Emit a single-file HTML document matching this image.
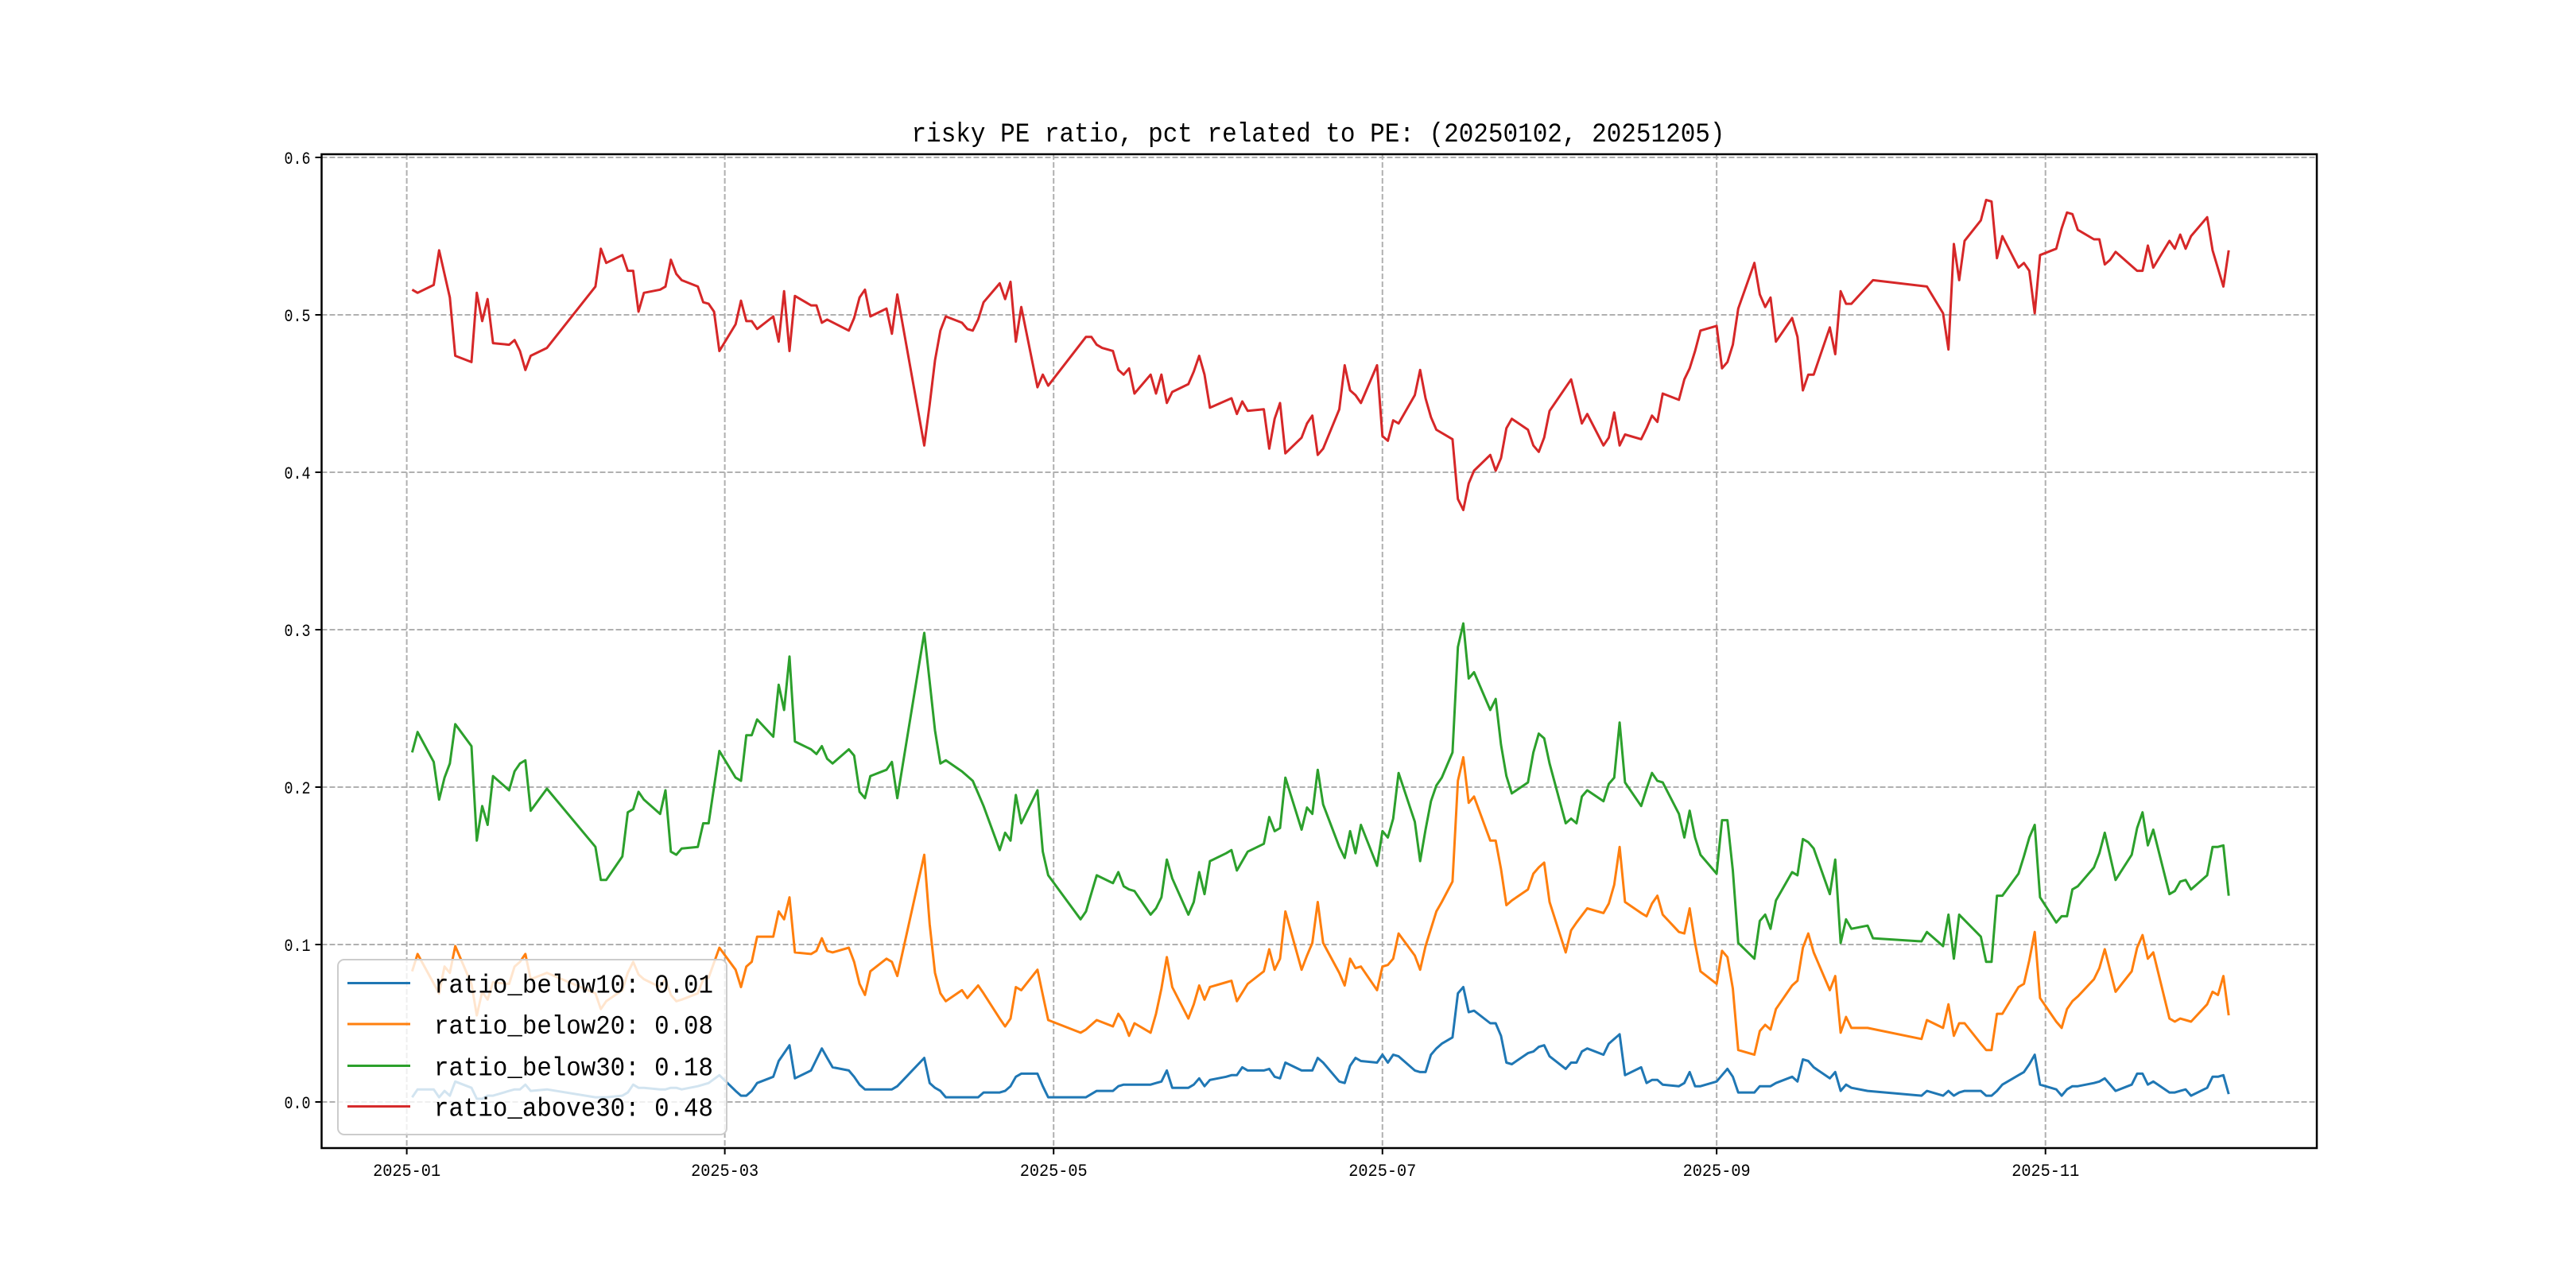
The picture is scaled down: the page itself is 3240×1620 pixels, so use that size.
<!DOCTYPE html>
<html><head><meta charset="utf-8">
<style>
html,body{margin:0;padding:0;background:#fff;}
svg{display:block;}
text{font-family:"Liberation Mono","WenQuanYi Zen Hei",monospace;fill:#000;}
</style></head>
<body>
<svg id="chart" width="3240" height="1620" viewBox="0 0 3240 1620" xmlns="http://www.w3.org/2000/svg">
<rect x="0" y="0" width="3240" height="1620" fill="#fff"/>
<text x="1658" y="178" font-size="34" text-anchor="middle" textLength="1023" lengthAdjust="spacingAndGlyphs">risky PE ratio, pct related to PE: (20250102, 20251205)</text>
<g id="grid"></g>
<g id="series"></g>
<g id="axes"></g>
<g id="legend"></g>
</svg>
<script>
// x values are day offsets from 2025-01-01
const yTicks = [0.0, 0.1, 0.2, 0.3, 0.4, 0.5, 0.6];
const yTickLabels = ["0.0","0.1","0.2","0.3","0.4","0.5","0.6"];
const xTicks = [0, 59, 120, 181, 243, 304];
const xTickLabels = ["2025-01","2025-03","2025-05","2025-07","2025-09","2025-11"];
const seriesNames = ["ratio_below10: 0.01","ratio_below20: 0.08","ratio_below30: 0.18","ratio_above30: 0.48"];

const daysBlue = [1,2,5,6,7,8,9,12,13,14,15,16,19,20,21,22,23,26,
35,36,37,40,41,42,43,44,47,48,49,50,51,54,55,56,
58,61,62,63,64,65,68,69,70,71,72,75,76,77,78,79,82,83,84,85,86,89,90,91,
96,97,98,99,100,103,104,105,106,107,110,111,112,113,114,117,118,119,
125,126,128,131,132,133,135,138,139,140,141,142,145,146,147,148,149,152,153,154,155,156,159,160,161,162,163,166,167,168,169,170,173,174,175,176,177,180,181,182,183,184,187,188,189,190,
191,192,194,195,196,197,198,201,202,203,204,205,208,209,210,211,212,215,216,217,218,219,222,223,224,225,226,229,230,231,232,233,236,237,238,239,240,
243,244,245,246,247,250,251,253,254,257,258,259,260,261,264,265,266,267,268,271,
281,282,285,286,287,288,289,292,293,294,295,296,299,300,301,302,303,306,307,308,309,310,313,314,315,317,320,321,322,323,324,327,328,329,330,331,334,335,336,337,338];
const valsBlue = [0.003,0.008,0.008,0.003,0.007,0.004,0.013,0.009,0.002,0.002,0.004,0.004,0.007,0.008,0.008,0.011,0.007,0.008,
0.003,0.003,0.003,0.004,0.006,0.011,0.009,0.009,0.008,0.008,0.009,0.009,0.008,0.010,0.011,0.012,
0.017,0.007,0.004,0.004,0.007,0.012,0.016,0.026,0.031,0.036,0.015,0.020,0.027,0.034,0.028,0.022,0.020,0.016,0.011,0.008,0.008,0.008,0.008,0.010,
0.028,0.012,0.009,0.007,0.003,0.003,0.003,0.003,0.003,0.006,0.006,0.007,0.010,0.016,0.018,0.018,0.010,0.003,
0.003,0.003,0.007,0.007,0.010,0.011,0.011,0.011,0.012,0.013,0.020,0.009,0.009,0.011,0.015,0.010,0.014,0.016,0.017,0.017,0.022,0.020,0.020,0.021,0.016,0.015,0.025,0.020,0.020,0.020,0.028,0.025,0.013,0.012,0.023,0.028,0.026,0.025,0.030,0.025,0.030,0.029,0.020,0.019,0.019,0.030,
0.034,0.037,0.041,0.069,0.073,0.057,0.058,0.050,0.050,0.042,0.025,0.024,0.031,0.032,0.035,0.036,0.029,0.021,0.025,0.025,0.032,0.034,0.030,0.037,0.040,0.043,0.017,0.022,0.012,0.014,0.014,0.011,0.010,0.012,0.019,0.010,0.010,
0.013,0.017,0.021,0.016,0.006,0.006,0.010,0.010,0.012,0.016,0.013,0.027,0.026,0.022,0.015,0.019,0.007,0.011,0.009,0.007,
0.004,0.007,0.004,0.007,0.004,0.006,0.007,0.007,0.004,0.004,0.007,0.011,0.017,0.019,0.024,0.030,0.011,0.008,0.004,0.008,0.010,0.010,0.012,0.013,0.015,0.007,0.011,0.018,0.018,0.011,0.013,0.006,0.006,0.007,0.008,0.004,0.009,0.016,0.016,0.017,0.005];

const daysOrange = [1,2,6,7,8,9,12,13,14,15,16,19,20,21,22,23,26,
35,36,37,40,41,42,43,44,47,48,49,50,51,54,55,56,
58,61,62,63,64,65,68,69,70,71,72,75,76,77,78,79,82,83,84,85,86,89,90,91,
96,97,98,99,100,103,104,105,106,107,110,111,112,113,114,117,118,119,
125,126,128,131,132,133,134,135,138,139,140,141,142,145,146,147,148,149,152,153,154,156,159,160,161,162,163,166,167,168,169,170,173,174,175,176,177,180,181,182,183,184,187,188,189,
191,192,194,195,196,197,198,201,202,203,204,205,208,209,210,211,212,215,216,217,219,222,223,224,225,226,229,230,231,232,233,236,237,238,239,240,
243,244,245,246,247,250,251,252,253,254,257,258,259,260,261,264,265,266,267,268,271,
281,282,285,286,287,288,289,292,293,294,295,296,299,300,301,302,303,306,307,308,309,310,313,314,315,317,320,321,322,323,324,327,328,329,330,331,334,335,336,337,338];
const valsOrange = [0.083,0.094,0.069,0.086,0.082,0.099,0.075,0.055,0.070,0.065,0.076,0.075,0.086,0.089,0.094,0.078,0.082,
0.069,0.059,0.064,0.071,0.082,0.089,0.081,0.078,0.073,0.078,0.068,0.064,0.065,0.069,0.078,0.079,
0.098,0.084,0.073,0.086,0.089,0.105,0.105,0.121,0.116,0.130,0.095,0.094,0.096,0.104,0.096,0.095,0.098,0.089,0.075,0.068,0.083,0.091,0.089,0.080,
0.157,0.113,0.082,0.069,0.064,0.071,0.066,0.070,0.074,0.069,0.053,0.048,0.053,0.073,0.071,0.084,0.068,0.052,
0.044,0.046,0.052,0.048,0.056,0.051,0.042,0.050,0.044,0.056,0.072,0.092,0.073,0.053,0.062,0.074,0.065,0.073,0.076,0.077,0.064,0.075,0.083,0.097,0.084,0.091,0.121,0.084,0.093,0.101,0.127,0.101,0.082,0.074,0.091,0.085,0.086,0.071,0.086,0.087,0.091,0.107,0.093,0.084,0.099,
0.121,0.127,0.140,0.204,0.219,0.190,0.194,0.166,0.166,0.148,0.125,0.128,0.135,0.145,0.149,0.152,0.127,0.095,0.109,0.114,0.123,0.120,0.126,0.138,0.162,0.127,0.120,0.118,0.126,0.131,0.119,0.108,0.107,0.123,0.101,0.083,
0.075,0.096,0.092,0.072,0.033,0.030,0.045,0.049,0.046,0.059,0.074,0.077,0.098,0.107,0.095,0.071,0.080,0.044,0.054,0.047,0.047,
0.040,0.052,0.047,0.062,0.042,0.050,0.050,0.037,0.033,0.033,0.056,0.056,0.073,0.075,0.090,0.108,0.066,0.051,0.047,0.059,0.064,0.067,0.078,0.085,0.097,0.070,0.083,0.098,0.106,0.091,0.095,0.053,0.051,0.053,0.052,0.051,0.062,0.070,0.068,0.080,0.055];

const daysGreen = [1,2,5,6,7,8,9,12,13,14,15,16,19,20,21,22,23,26,
35,36,37,40,41,42,43,44,47,48,49,50,51,54,55,56,
58,61,62,63,64,65,68,69,70,71,72,75,76,77,78,79,82,83,84,85,86,89,90,91,
96,97,98,99,100,103,104,105,106,107,110,111,112,113,114,117,118,119,
125,126,128,131,132,133,134,135,138,139,140,141,142,145,146,147,148,149,152,153,154,156,159,160,161,162,163,166,167,168,169,170,173,174,175,176,177,180,181,182,183,184,187,188,189,190,
191,192,194,195,196,197,198,201,202,203,204,205,208,209,210,211,212,215,216,217,218,219,222,223,224,225,226,229,230,231,232,233,236,237,238,239,240,
243,244,245,246,247,250,251,252,253,254,257,258,259,260,261,264,265,266,267,268,271,272,
281,282,285,286,287,288,292,293,294,295,296,299,300,301,302,303,306,307,308,309,310,313,314,315,317,320,321,322,323,324,327,328,329,330,331,334,335,336,337,338];
const valsGreen = [0.222,0.235,0.216,0.192,0.206,0.215,0.240,0.226,0.166,0.188,0.176,0.207,0.198,0.210,0.215,0.217,0.185,0.199,
0.162,0.141,0.141,0.156,0.184,0.186,0.197,0.192,0.183,0.198,0.159,0.157,0.161,0.162,0.177,0.177,
0.223,0.206,0.204,0.233,0.233,0.243,0.232,0.265,0.249,0.283,0.229,0.224,0.221,0.226,0.218,0.215,0.224,0.220,0.197,0.193,0.207,0.211,0.216,0.193,
0.298,0.267,0.236,0.215,0.217,0.210,0.207,0.204,0.196,0.188,0.160,0.171,0.166,0.195,0.177,0.198,0.159,0.144,
0.116,0.121,0.144,0.139,0.146,0.137,0.135,0.134,0.119,0.123,0.130,0.154,0.142,0.119,0.127,0.146,0.132,0.153,0.158,0.160,0.147,0.159,0.164,0.181,0.172,0.174,0.206,0.173,0.187,0.183,0.211,0.189,0.162,0.155,0.172,0.158,0.176,0.150,0.172,0.168,0.180,0.209,0.178,0.153,0.173,0.191,
0.201,0.206,0.222,0.289,0.304,0.269,0.273,0.249,0.256,0.227,0.207,0.196,0.203,0.222,0.234,0.231,0.215,0.177,0.180,0.177,0.194,0.198,0.191,0.202,0.206,0.241,0.203,0.188,0.199,0.209,0.204,0.203,0.183,0.168,0.185,0.168,0.157,
0.145,0.179,0.179,0.147,0.101,0.091,0.115,0.119,0.110,0.128,0.146,0.144,0.167,0.165,0.161,0.132,0.154,0.101,0.116,0.110,0.112,0.104,
0.102,0.108,0.099,0.119,0.091,0.119,0.105,0.089,0.089,0.131,0.131,0.145,0.156,0.168,0.176,0.130,0.114,0.118,0.118,0.135,0.137,0.149,0.158,0.171,0.141,0.157,0.174,0.184,0.163,0.173,0.132,0.134,0.140,0.141,0.135,0.144,0.162,0.162,0.163,0.131];

const daysRed = [1,2,5,6,8,9,12,13,14,15,16,19,20,21,22,23,26,
35,36,37,40,41,42,43,44,47,48,49,50,51,54,55,56,57,
58,61,62,63,64,65,68,69,70,71,72,75,76,77,78,82,83,84,85,86,89,90,91,
96,97,98,99,100,103,104,105,106,107,110,111,112,113,114,117,118,119,
126,127,128,129,131,132,133,134,135,138,139,140,141,142,145,146,147,148,149,153,154,155,156,159,160,161,162,163,166,167,168,169,170,173,174,175,176,177,180,181,
182,183,184,187,188,189,190,191,194,195,196,197,198,201,202,203,204,205,208,209,210,211,212,216,217,218,219,222,223,224,225,226,229,230,231,232,233,236,237,238,239,240,
243,244,245,246,247,250,251,252,253,254,257,258,259,260,261,264,265,266,267,268,272,
282,285,286,287,288,289,292,293,294,295,296,299,300,301,302,303,306,307,308,309,310,313,314,315,316,317,321,322,323,324,327,328,329,330,331,334,335,337,338];
const valsRed = [0.516,0.514,0.519,0.541,0.511,0.474,0.470,0.514,0.496,0.510,0.482,0.481,0.484,0.477,0.465,0.474,0.479,
0.518,0.542,0.533,0.538,0.528,0.528,0.502,0.514,0.516,0.518,0.535,0.526,0.522,0.518,0.508,0.507,0.502,
0.477,0.494,0.509,0.496,0.496,0.491,0.499,0.483,0.515,0.477,0.512,0.506,0.506,0.495,0.497,0.490,0.498,0.511,0.516,0.499,0.504,0.488,0.513,
0.417,0.443,0.471,0.490,0.499,0.495,0.491,0.490,0.497,0.508,0.520,0.510,0.521,0.483,0.505,0.454,0.462,0.455,
0.486,0.486,0.481,0.479,0.477,0.465,0.462,0.466,0.450,0.462,0.450,0.462,0.444,0.451,0.456,0.464,0.474,0.462,0.441,0.447,0.437,0.445,0.439,0.440,0.415,0.434,0.444,0.412,0.422,0.431,0.436,0.411,0.415,0.440,0.468,0.452,0.449,0.444,0.468,0.423,
0.420,0.433,0.431,0.449,0.465,0.447,0.435,0.427,0.421,0.383,0.376,0.393,0.401,0.411,0.401,0.409,0.428,0.434,0.427,0.417,0.413,0.422,0.439,0.459,0.445,0.431,0.437,0.417,0.422,0.438,0.417,0.424,0.421,0.428,0.436,0.432,0.450,0.446,0.459,0.466,0.477,0.490,
0.493,0.466,0.470,0.481,0.504,0.533,0.513,0.505,0.511,0.483,0.498,0.486,0.452,0.462,0.462,0.492,0.475,0.515,0.507,0.507,0.522,
0.518,0.501,0.478,0.545,0.522,0.547,0.560,0.573,0.572,0.536,0.550,0.530,0.533,0.528,0.501,0.538,0.542,0.555,0.565,0.564,0.554,0.548,0.548,0.532,0.535,0.540,0.528,0.528,0.544,0.530,0.547,0.542,0.551,0.542,0.550,0.562,0.541,0.518,0.541];

const seriesColors = ["#1f77b4","#ff7f0e","#2ca02c","#d62728"];

const NS = "http://www.w3.org/2000/svg";
const L = 404.5, R = 2914, T = 194, B = 1444;
function xs(d){ return 511.6 + d * 6.78; }
function ys(v){ return 1386 - v * 1980; }
function mk(tag, attrs, parent){
  const e = document.createElementNS(NS, tag);
  for (const k in attrs) e.setAttribute(k, attrs[k]);
  parent.appendChild(e);
  return e;
}
const grid = document.getElementById('grid');
const axes = document.getElementById('axes');
const seriesG = document.getElementById('series');
const legend = document.getElementById('legend');

yTicks.forEach((v, i) => {
  const y = ys(v);
  const g = mk('line', {x1:L, x2:R, y1:y, y2:y, stroke:'#b0b0b0', 'stroke-width':2, 'stroke-dasharray':'7,3'}, grid);
  
  
  const t = mk('line', {x1:L-8, x2:L, y1:y, y2:y, stroke:'#000', 'stroke-width':2}, axes);
  
  
  const lb = mk('text', {x:L-14, y:y+8, 'font-size':22, 'text-anchor':'end', textLength:33, lengthAdjust:'spacingAndGlyphs'}, axes);
  lb.textContent = yTickLabels[i];
  
  
});
xTicks.forEach((d, i) => {
  const x = xs(d);
  const g = mk('line', {x1:x, x2:x, y1:T, y2:B, stroke:'#b0b0b0', 'stroke-width':2, 'stroke-dasharray':'7,3'}, grid);
  
  
  const t = mk('line', {x1:x, x2:x, y1:B, y2:B+8, stroke:'#000', 'stroke-width':2}, axes);
  
  
  const lb = mk('text', {x:x, y:1479, 'font-size':22, 'text-anchor':'middle', textLength:85, lengthAdjust:'spacingAndGlyphs'}, axes);
  lb.textContent = xTickLabels[i];
  
  
});
const frame = mk('rect', {x:L, y:T, width:R-L, height:B-T, fill:'none', stroke:'#000', 'stroke-width':2.5}, axes);



const allDays = [daysBlue, daysOrange, daysGreen, daysRed];
const allVals = [valsBlue, valsOrange, valsGreen, valsRed];
const lineNames = ['line-ratio-below10','line-ratio-below20','line-ratio-below30','line-ratio-above30'];
for (let s = 0; s < 4; s++) {
  const ds = allDays[s], vs = allVals[s];
  const n = Math.min(ds.length, vs.length);
  let p = '';
  for (let i = 0; i < n; i++) p += (i ? 'L' : 'M') + xs(ds[i]).toFixed(1) + ',' + ys(vs[i]).toFixed(1);
  const path = mk('path', {d:p, fill:'none', stroke:seriesColors[s], 'stroke-width':3, 'stroke-linejoin':'round'}, seriesG);
  
  
}

const box = mk('rect', {x:425, y:1207, width:489, height:220, rx:8, fill:'#fff', 'fill-opacity':0.8, stroke:'#cccccc', 'stroke-width':2}, legend);


const legY = [1236.5, 1288, 1340.5, 1391.6];
const entryNames = ['legend-entry-below10','legend-entry-below20','legend-entry-below30','legend-entry-above30'];
for (let s = 0; s < 4; s++) {
  const g = mk('g', {}, legend);
  
  
  mk('line', {x1:437, x2:516, y1:legY[s], y2:legY[s], stroke:seriesColors[s], 'stroke-width':3}, g);
  const t = mk('text', {x:546, y:legY[s]+12, 'font-size':33, textLength:351, lengthAdjust:'spacingAndGlyphs'}, g);
  t.textContent = seriesNames[s];
}
</script>
</body></html>
